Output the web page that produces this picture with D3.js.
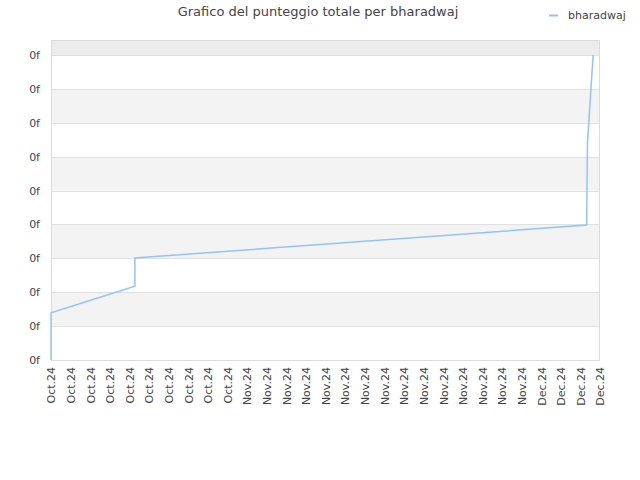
<!DOCTYPE html>
<html>
<head>
<meta charset="UTF-8">
<title>Grafico</title>
<script src="https://d3js.org/d3.v7.min.js"></script>
<style>
	body { margin: 0; background: #fff; }
	text { font-family: "DejaVu Sans", sans-serif; fill: #444; }
</style>
</head>
<body>
	<div id="chart"></div>
	<script type="text/javascript">
		// tick labels along the x axis (one per slot)
		var xLabels = [
			"Oct.24", "Oct.24", "Oct.24", "Oct.24", "Oct.24", "Oct.24", "Oct.24", "Oct.24", "Oct.24", "Oct.24",
			"Nov.24", "Nov.24", "Nov.24", "Nov.24", "Nov.24", "Nov.24", "Nov.24", "Nov.24", "Nov.24", "Nov.24",
			"Nov.24", "Nov.24", "Nov.24", "Nov.24", "Nov.24",
			"Dec.24", "Dec.24", "Dec.24", "Dec.24"
		];
		var yTicks = [0, 1, 2, 3, 4, 5, 6, 7, 8, 9];
		var yLabel = "0f";

		// series: position along the axis (slot index) and score
		var seriesName = "bharadwaj";
		var seriesX = [0, 0, 4.28, 4.28, 27.32, 27.36, 27.65];
		var seriesY = [0, 1.39, 2.18, 3.01, 3.98, 6.4, 9.0];

		var W = 640, H = 480;
		var margin = { top : 40, right : 40, bottom : 120, left : 51 };
		var width = W - margin.left - margin.right;
		var height = H - margin.top - margin.bottom;

		var svg = d3.select("#chart").append("svg").attr("width", W).attr("height", H);

		var x = d3.scaleLinear().domain([ 0, xLabels.length - 1 ]).range([ 0, width ]);
		var y = d3.scaleLinear().domain([ 0, 9.44 ]).range([ height, 0 ]);

		var g = svg.append("g").attr("transform", "translate(" + margin.left + "," + margin.top + ")");

		// background bands
		g.append("rect").attr("x", 0).attr("y", 0).attr("width", width).attr("height", y(9)).attr("fill", "#ececec");
		yTicks.slice(0, -1).forEach(function(t) {
			g.append("rect").attr("x", 0).attr("y", y(t + 1)).attr("width", width)
				.attr("height", y(t) - y(t + 1)).attr("fill", t % 2 === 1 ? "#f3f3f3" : "#ffffff");
		});

		// gridlines
		g.append("g").selectAll("line").data(yTicks).enter().append("line")
			.attr("x1", 0).attr("x2", width)
			.attr("y1", function(d) { return Math.round(y(d)) + 0.5; })
			.attr("y2", function(d) { return Math.round(y(d)) + 0.5; })
			.attr("stroke", "#e0e0e0").attr("stroke-width", 1);

		// frame
		g.append("rect").attr("x", 0.5).attr("y", 0.5).attr("width", width - 1).attr("height", height)
			.attr("fill", "none").attr("stroke", "#dcdcdc");

		// y axis
		var yAxis = g.append("g").call(d3.axisLeft(y).tickValues(yTicks).tickFormat(function() { return yLabel; }).tickSize(0).tickPadding(11));
		yAxis.select(".domain").remove();
		yAxis.selectAll("text").attr("font-size", 11).style("font-family", "DejaVu Sans").attr("fill", "#444");

		// x axis
		var xAxis = g.append("g").attr("transform", "translate(0," + height + ")")
			.call(d3.axisBottom(x).tickValues(d3.range(xLabels.length)).tickFormat(function(d) { return xLabels[d]; }).tickSize(0));
		xAxis.select(".domain").remove();
		xAxis.selectAll("text")
			.attr("font-size", 11).style("font-family", "DejaVu Sans").attr("fill", "#444")
			.attr("transform", "rotate(-90)")
			.attr("text-anchor", "end")
			.attr("x", -7).attr("y", 0).attr("dy", "0.35em");

		// the line
		var pts = seriesX.map(function(v, i) { return [ v, seriesY[i] ]; });
		g.append("path").datum(pts)
			.attr("fill", "none").attr("stroke", "#92c5f5").attr("stroke-width", 1.5)
			.attr("d", d3.line().x(function(d) { return x(d[0]); }).y(function(d) { return y(d[1]); }));

		// title
		svg.append("text").attr("x", 318).attr("y", 16).attr("text-anchor", "middle")
			.attr("font-size", 13).attr("fill", "#444").text("Grafico del punteggio totale per " + seriesName);

		// legend
		svg.append("line").attr("x1", 549).attr("x2", 558).attr("y1", 15.5).attr("y2", 15.5)
			.attr("stroke", "#92c5f5").attr("stroke-width", 2);
		svg.append("text").attr("x", 568).attr("y", 19).attr("font-size", 11).attr("fill", "#222").text(seriesName);
	</script>
</body>
</html>
